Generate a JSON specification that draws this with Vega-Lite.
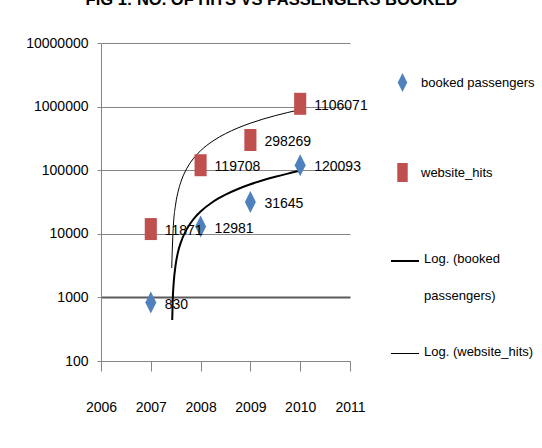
{
  "$schema": "https://vega.github.io/schema/vega-lite/v6.json",
  "width": 249,
  "height": 318,
  "autosize": {"type": "none"},
  "padding": {"left": 101, "top": 43, "right": 192, "bottom": 87},
  "background": "white",
  "title": {
    "text": "FIG 1: NO. OF HITS VS PASSENGERS BOOKED",
    "font": "Liberation Sans",
    "fontSize": 16.5,
    "fontWeight": "bold",
    "color": "black",
    "anchor": "middle",
    "dx": 46,
    "offset": 15,
    "baseline": "alphabetic"
  },
  "config": {
    "view": {"stroke": null},
    "axis": {
      "labelFont": "Liberation Sans",
      "labelFontSize": 14,
      "labelColor": "black",
      "labelOverlap": false,
      "labelFlush": false,
      "domainColor": "#868686",
      "tickColor": "#868686",
      "title": null
    },
    "legend": {
      "labelFont": "Liberation Sans",
      "labelFontSize": 13,
      "labelColor": "black",
      "labelLimit": 200,
      "padding": 0
    }
  },
  "datasets": {
    "points": [
      {"series": "booked passengers", "year": 2007, "value": 830},
      {"series": "booked passengers", "year": 2008, "value": 12981},
      {"series": "booked passengers", "year": 2009, "value": 31645},
      {"series": "booked passengers", "year": 2010, "value": 120093},
      {"series": "website_hits", "year": 2007, "value": 11871},
      {"series": "website_hits", "year": 2008, "value": 119708},
      {"series": "website_hits", "year": 2009, "value": 298269},
      {"series": "website_hits", "year": 2010, "value": 1106071}
    ],
    "trends": [
      {"trend": "Log. (booked passengers)", "year": 2007.43, "value": 440},
      {"trend": "Log. (booked passengers)", "year": 2007.44, "value": 900},
      {"trend": "Log. (booked passengers)", "year": 2007.46, "value": 1700},
      {"trend": "Log. (booked passengers)", "year": 2007.5, "value": 3300},
      {"trend": "Log. (booked passengers)", "year": 2007.55, "value": 5300},
      {"trend": "Log. (booked passengers)", "year": 2007.6, "value": 7200},
      {"trend": "Log. (booked passengers)", "year": 2007.7, "value": 11000},
      {"trend": "Log. (booked passengers)", "year": 2007.8, "value": 14800},
      {"trend": "Log. (booked passengers)", "year": 2007.9, "value": 18600},
      {"trend": "Log. (booked passengers)", "year": 2008, "value": 22400},
      {"trend": "Log. (booked passengers)", "year": 2008.25, "value": 31900},
      {"trend": "Log. (booked passengers)", "year": 2008.5, "value": 41300},
      {"trend": "Log. (booked passengers)", "year": 2008.75, "value": 50700},
      {"trend": "Log. (booked passengers)", "year": 2009, "value": 60200},
      {"trend": "Log. (booked passengers)", "year": 2009.25, "value": 69600},
      {"trend": "Log. (booked passengers)", "year": 2009.5, "value": 79000},
      {"trend": "Log. (booked passengers)", "year": 2009.75, "value": 88400},
      {"trend": "Log. (booked passengers)", "year": 2010, "value": 97900},
      {"trend": "Log. (website_hits)", "year": 2007.42, "value": 2900},
      {"trend": "Log. (website_hits)", "year": 2007.43, "value": 5200},
      {"trend": "Log. (website_hits)", "year": 2007.45, "value": 12100},
      {"trend": "Log. (website_hits)", "year": 2007.5, "value": 29400},
      {"trend": "Log. (website_hits)", "year": 2007.55, "value": 46700},
      {"trend": "Log. (website_hits)", "year": 2007.6, "value": 64000},
      {"trend": "Log. (website_hits)", "year": 2007.7, "value": 98600},
      {"trend": "Log. (website_hits)", "year": 2007.8, "value": 133300},
      {"trend": "Log. (website_hits)", "year": 2007.9, "value": 167900},
      {"trend": "Log. (website_hits)", "year": 2008, "value": 202500},
      {"trend": "Log. (website_hits)", "year": 2008.25, "value": 289000},
      {"trend": "Log. (website_hits)", "year": 2008.5, "value": 375500},
      {"trend": "Log. (website_hits)", "year": 2008.75, "value": 462000},
      {"trend": "Log. (website_hits)", "year": 2009, "value": 548600},
      {"trend": "Log. (website_hits)", "year": 2009.25, "value": 635100},
      {"trend": "Log. (website_hits)", "year": 2009.5, "value": 721600},
      {"trend": "Log. (website_hits)", "year": 2009.75, "value": 808100},
      {"trend": "Log. (website_hits)", "year": 2010, "value": 894700}
    ]
  },
  "encoding": {
    "x": {
      "field": "year",
      "type": "quantitative",
      "scale": {"domain": [2006, 2011], "nice": false, "zero": false},
      "axis": {
        "values": [2006, 2007, 2008, 2009, 2010, 2011],
        "format": "d",
        "grid": false,
        "tickSize": 10,
        "labelPadding": 29
      }
    },
    "y": {
      "field": "value",
      "type": "quantitative",
      "scale": {"type": "log", "domain": [100, 10000000], "nice": false},
      "axis": {
        "values": [100, 1000, 10000, 100000, 1000000, 10000000],
        "format": "d",
        "grid": true,
        "gridColor": {"condition": {"test": "datum.value === 1000", "value": "#5a5a5a"}, "value": "#868686"},
        "gridWidth": {"condition": {"test": "datum.value === 1000", "value": 2}, "value": 1},
        "tickSize": 4,
        "labelPadding": 9
      }
    }
  },
  "layer": [
    {
      "data": {"name": "trends"},
      "mark": {"type": "line", "color": "black", "interpolate": "monotone"},
      "encoding": {
        "strokeWidth": {
          "field": "trend",
          "type": "ordinal",
          "scale": {"domain": ["Log. (booked passengers)", "Log. (website_hits)"], "range": [2, 1]},
          "legend": {
            "title": null,
            "orient": "none",
            "legendX": 289,
            "legendY": 203,
            "symbolType": "stroke",
            "symbolSize": 784,
            "symbolStrokeColor": "black",
            "labelOffset": 4,
            "rowPadding": 36,
            "labelBaseline": "top",
            "labelExpr": "datum.label === 'Log. (booked passengers)' ? ['Log. (booked', 'passengers)'] : datum.label",
            "encode": {"labels": {"update": {"dy": {"value": -8}, "lineHeight": {"value": 37}}}}
          }
        }
      }
    },
    {
      "data": {"name": "points"},
      "mark": {"type": "point", "filled": true, "opacity": 1, "size": 484},
      "encoding": {
        "color": {
          "field": "series",
          "type": "nominal",
          "scale": {"domain": ["booked passengers", "website_hits"], "range": ["#4F81BD", "#C0504D"]},
          "legend": {
            "title": null,
            "orient": "none",
            "legendX": 292,
            "legendY": 30,
            "symbolSize": 360,
            "symbolStrokeWidth": 0,
            "symbolOpacity": 1,
            "labelOffset": 9,
            "rowPadding": 71
          }
        },
        "shape": {
          "field": "series",
          "type": "nominal",
          "scale": {"domain": ["booked passengers", "website_hits"], "range": ["M0,-1L0.5,0L0,1L-0.5,0Z", "M-0.55,-1L0.55,-1L0.55,1L-0.55,1Z"]}
        }
      }
    },
    {
      "data": {"name": "points"},
      "mark": {
        "type": "text",
        "align": "left",
        "baseline": "middle",
        "dx": 14,
        "dy": 2,
        "font": "Liberation Sans",
        "fontSize": 14,
        "color": "black"
      },
      "encoding": {
        "text": {"field": "value", "type": "quantitative", "format": "d"}
      }
    }
  ]
}
